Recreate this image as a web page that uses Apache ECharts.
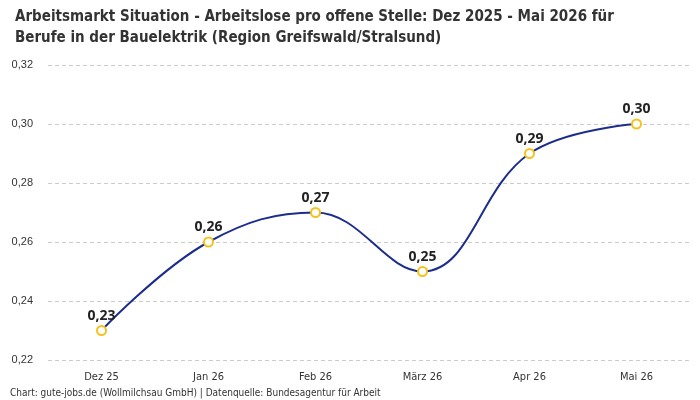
<!DOCTYPE html>
<html>
<head>
<meta charset="utf-8">
<script src="https://cdn.jsdelivr.net/npm/echarts@6/dist/echarts.min.js"></script>
<style>
  html, body { margin: 0; padding: 0; background: #fff; }
  #chart { width: 700px; height: 400px; }
</style>
</head>
<body>
<div id="chart"></div>
<script>
// Monatswerte
const months = ["Dez 25", "Jan 26", "Feb 26", "März 26", "Apr 26", "Mai 26"];
const ratio = [0.23, 0.26, 0.27, 0.25, 0.29, 0.30];

const fmt = v => v.toFixed(2).replace(".", ",");
const font = "'Liberation Sans Narrow', 'DejaVu Sans Condensed', 'Noto Sans', sans-serif";

const chart = echarts.init(document.getElementById("chart"));
chart.setOption({
  animation: false,
  textStyle: { fontFamily: font },
  title: {
    text: "Arbeitsmarkt Situation - Arbeitslose pro offene Stelle: Dez 2025 - Mai 2026 für\nBerufe in der Bauelektrik (Region Greifswald/Stralsund)",
    left: 10,
    top: 2,
    textStyle: { fontSize: 15, fontWeight: "bold", color: "#333", lineHeight: 21, fontFamily: font }
  },
  graphic: [{
    type: "text",
    left: 10,
    top: 388,
    style: { text: "Chart: gute-jobs.de (Wollmilchsau GmbH) | Datenquelle: Bundesagentur für Arbeit", fontSize: 10, fill: "#333", fontFamily: font }
  }],
  grid: { left: 48, right: 10, top: 65, bottom: 40 },
  xAxis: {
    type: "category",
    data: months,
    axisLine: { show: false },
    axisTick: { show: false },
    axisLabel: { color: "#333", fontSize: 11, margin: 12 }
  },
  yAxis: {
    type: "value",
    min: 0.22,
    max: 0.32,
    interval: 0.02,
    axisLine: { show: false },
    axisTick: { show: false },
    axisLabel: { color: "#333", fontSize: 11, margin: 15, formatter: fmt, fontFamily: "'Liberation Sans', sans-serif" },
    splitLine: { lineStyle: { color: "#ccc", type: [4, 3] } }
  },
  series: [{
    type: "line",
    data: ratio,
    smooth: 0.4,
    symbol: "circle",
    symbolSize: 9,
    lineStyle: { color: "#1c2d8c", width: 2 },
    itemStyle: { color: "#fff", borderColor: "#f5c21b", borderWidth: 2 },
    label: {
      show: true,
      position: "top",
      distance: 2,
      formatter: p => fmt(p.value),
      fontSize: 14,
      fontWeight: "bold",
      color: "#222",
      fontFamily: "'Noto Sans', sans-serif"
    }
  }]
});
</script>
</body>
</html>
